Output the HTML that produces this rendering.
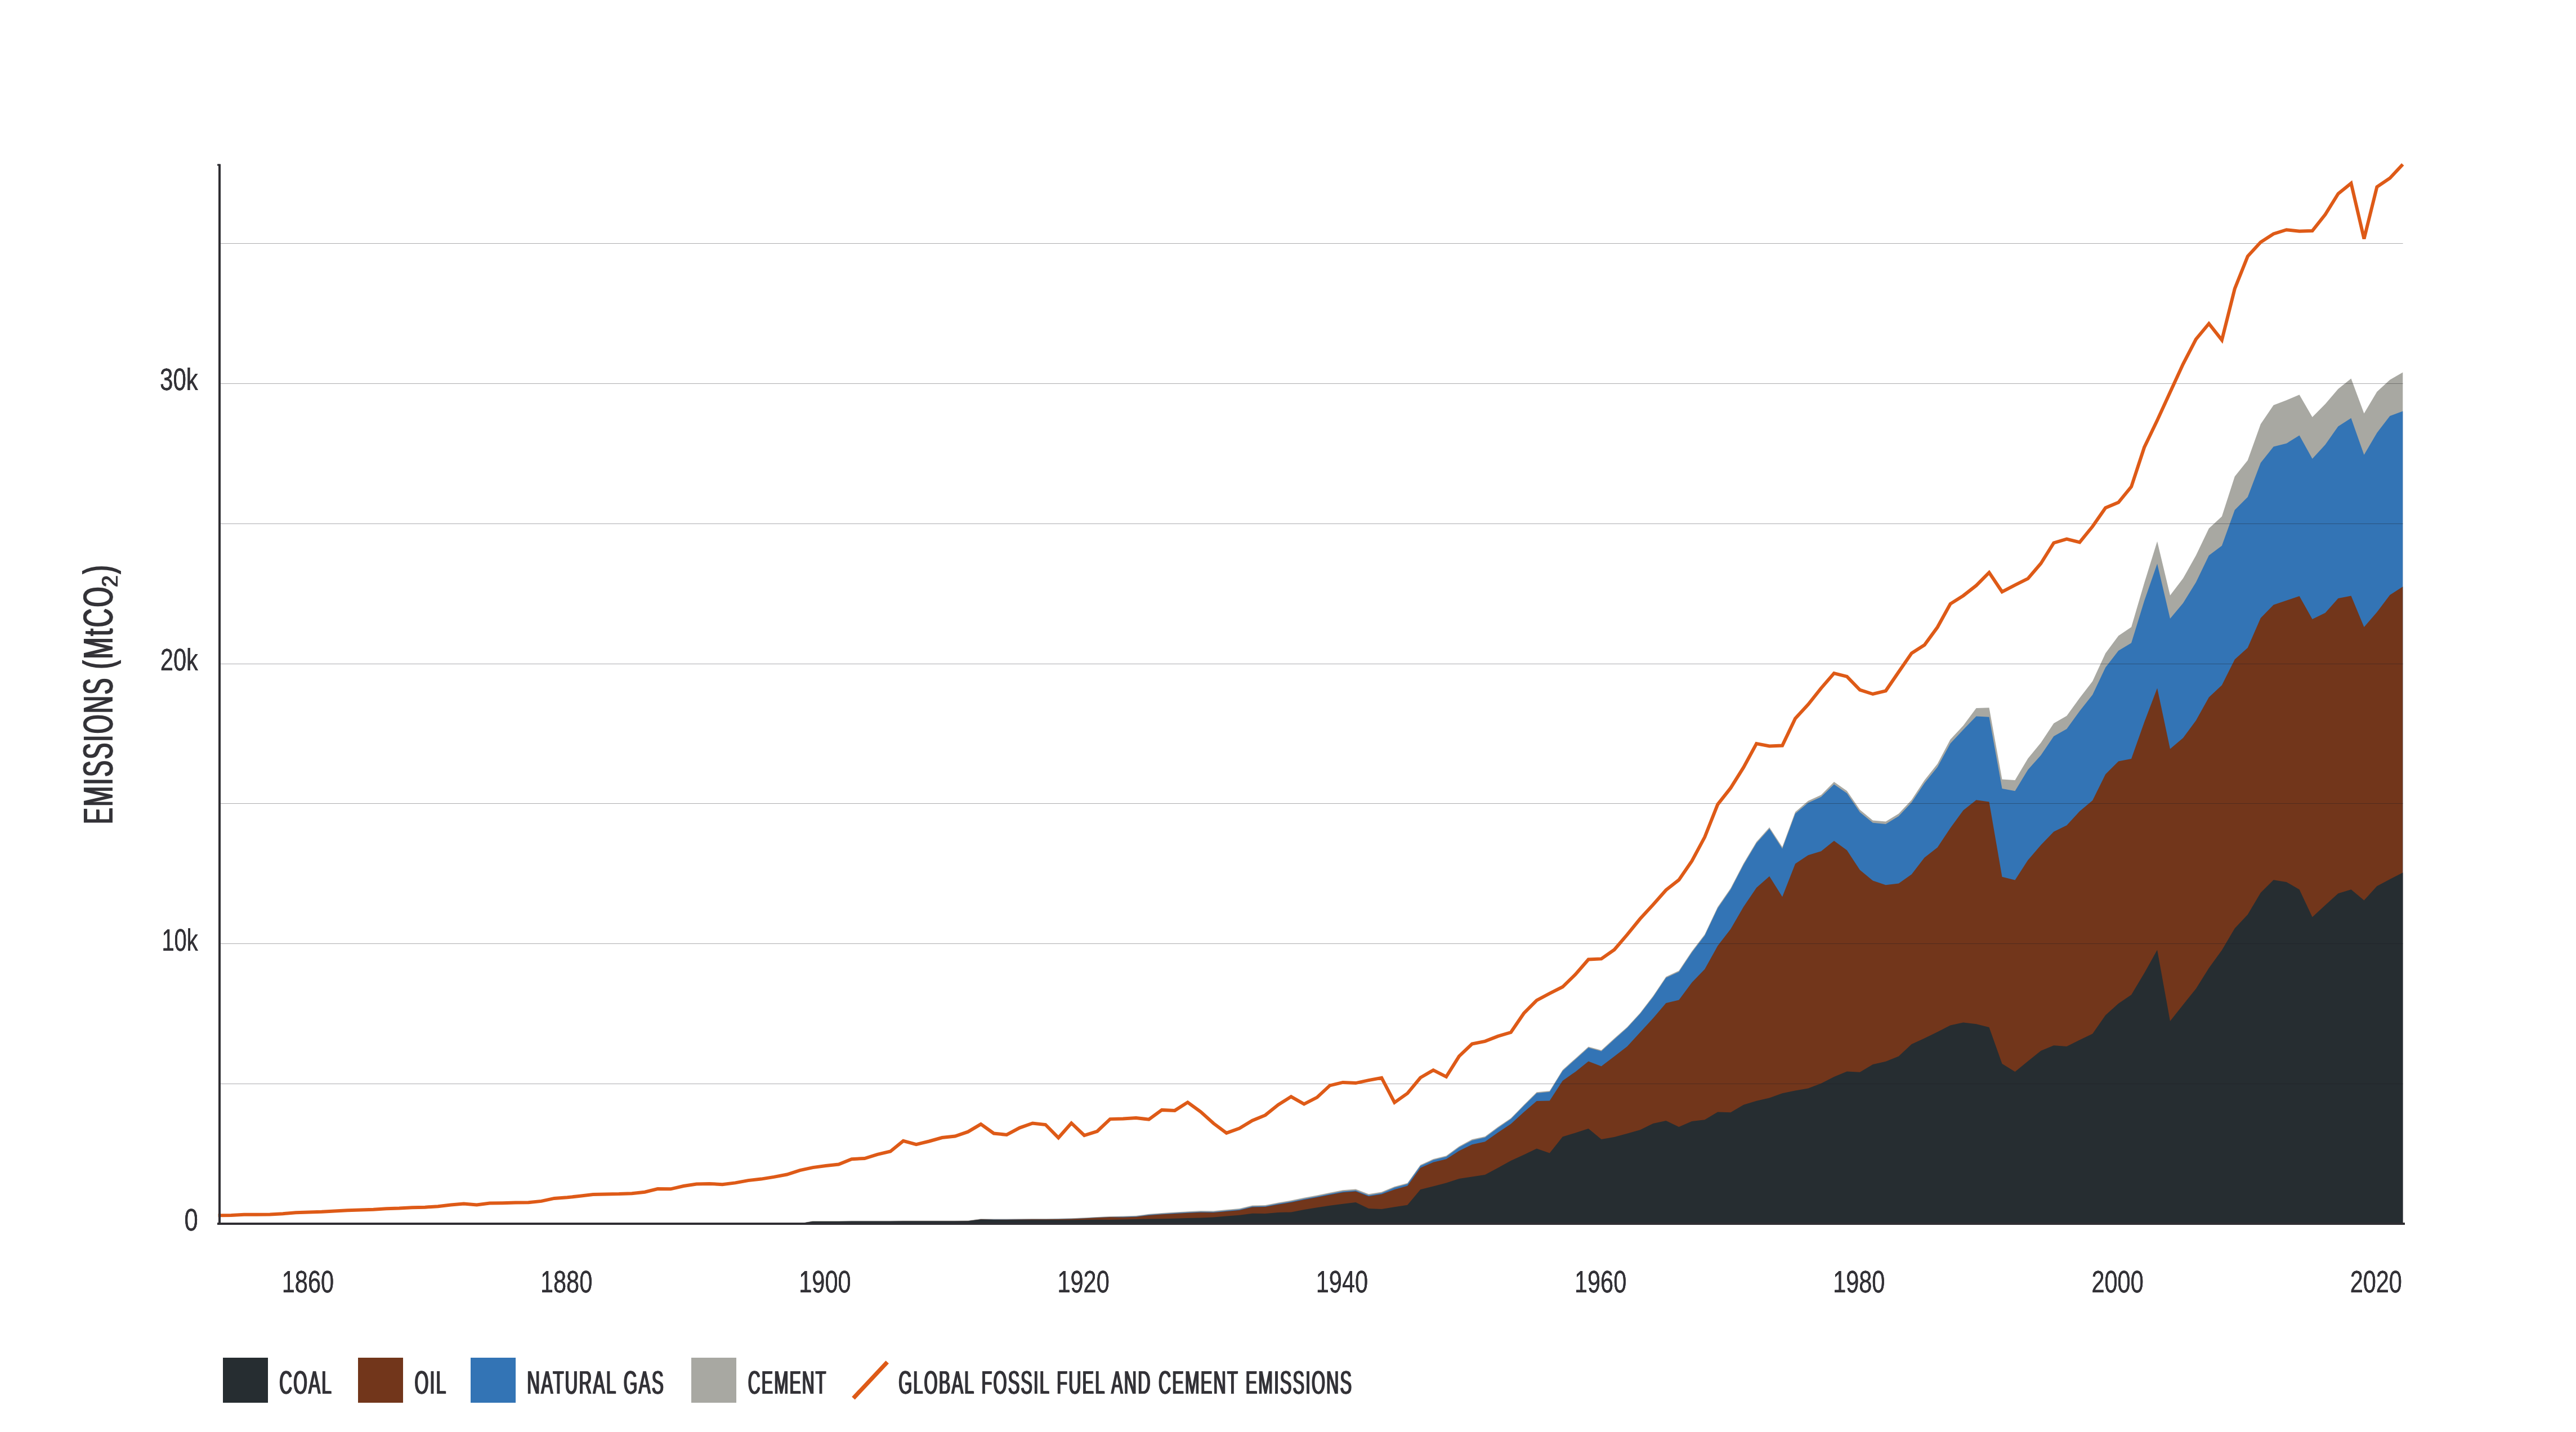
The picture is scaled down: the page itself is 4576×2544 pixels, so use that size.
<!DOCTYPE html>
<html lang="en"><head><meta charset="utf-8"><title>Global fossil fuel and cement emissions</title>
<style>html,body{margin:0;padding:0;background:#fff}body{width:4576px;height:2544px}svg{display:block}text{font-family:"Liberation Sans",sans-serif;fill:#333237}</style></head><body>
<svg width="4576" height="2544" viewBox="0 0 4576 2544">
<rect width="4576" height="2544" fill="#fff"/>
<defs><filter id="b" x="-5%" y="-20%" width="110%" height="140%" color-interpolation-filters="sRGB"><feOffset in="SourceGraphic" dx="0.9" dy="0" result="o1"/><feOffset in="SourceGraphic" dx="-0.9" dy="0" result="o2"/><feMerge><feMergeNode in="o1"/><feMergeNode in="o2"/><feMergeNode in="SourceGraphic"/></feMerge></filter><filter id="c" x="-5%" y="-20%" width="110%" height="140%" color-interpolation-filters="sRGB"><feOffset in="SourceGraphic" dx="0.3" dy="0" result="o1"/><feOffset in="SourceGraphic" dx="-0.3" dy="0" result="o2"/><feMerge><feMergeNode in="o1"/><feMergeNode in="o2"/><feMergeNode in="SourceGraphic"/></feMerge></filter></defs>
<path d="M1398,2174L1398,2174L1420.9,2173.5L1443.9,2169.1L1466.9,2169L1489.8,2168.9L1512.8,2168.8L1535.8,2168.8L1558.7,2168.7L1581.7,2168.7L1604.6,2168.6L1627.6,2168.6L1650.6,2168.5L1673.5,2168.5L1696.5,2168.4L1719.5,2168.3L1742.4,2165.3L1765.4,2165.4L1788.3,2165.4L1811.3,2165.2L1834.3,2165L1857.2,2164.9L1880.2,2164.7L1903.2,2164.2L1926.1,2163.2L1949.1,2162L1972,2161L1995,2160.4L2018,2159.8L2040.9,2156.7L2063.9,2155L2086.9,2153.5L2109.8,2152.2L2132.8,2151.1L2155.8,2151.3L2178.7,2149.1L2201.7,2147L2224.6,2141.5L2247.6,2140.9L2270.6,2136.5L2293.5,2132.6L2316.5,2127.8L2339.5,2123.5L2362.4,2118.7L2385.4,2114.3L2408.3,2112.6L2431.3,2121.3L2454.3,2117.4L2477.2,2108L2500.2,2101.7L2523.2,2069.5L2546.1,2059.1L2569.1,2053.2L2592,2036.5L2615,2024.1L2638,2019L2660.9,2002L2683.9,1986.4L2706.9,1962.9L2729.8,1940.3L2752.8,1937.9L2775.8,1900.7L2798.7,1880.2L2821.7,1859.4L2844.6,1865.7L2867.6,1844.8L2890.6,1824.4L2913.5,1799.4L2936.5,1769.5L2959.5,1735.3L2982.4,1724.5L3005.4,1689.9L3028.3,1660L3051.3,1611.2L3074.3,1578L3097.2,1533.9L3120.2,1495.5L3143.2,1469.8L3166.1,1504.8L3189.1,1442.6L3212,1422.8L3235,1412.3L3258,1389L3280.9,1405.1L3303.9,1438.4L3326.9,1457.5L3349.8,1459.4L3372.8,1445.4L3395.8,1420.9L3418.7,1386L3441.7,1356.9L3464.6,1313.8L3487.6,1288.9L3510.6,1258L3533.5,1257.2L3556.5,1384.4L3579.5,1386L3602.4,1347.6L3625.4,1319.6L3648.3,1285.1L3671.3,1271.8L3694.3,1240L3717.2,1210.3L3740.2,1160.6L3763.2,1129.4L3786.1,1114.1L3809.1,1035.8L3832.1,961.8L3855,1057.8L3878,1027.6L3900.9,986.8L3923.9,938.7L3946.9,917.6L3969.8,846.5L3992.8,817.7L4015.8,753.6L4038.7,719.8L4061.7,710.9L4084.6,701.3L4107.6,740.9L4130.6,717.8L4153.5,691L4176.5,672.5L4199.5,734.4L4222.4,696L4245.4,674.8L4268.3,661.4L4268.3,2174Z" fill="#a8a8a2"/>
<path d="M1398,2174L1398,2174L1420.9,2173.5L1443.9,2170.1L1466.9,2170L1489.8,2169.9L1512.8,2169.8L1535.8,2169.8L1558.7,2169.7L1581.7,2169.7L1604.6,2169.6L1627.6,2169.6L1650.6,2169.5L1673.5,2169.5L1696.5,2169.4L1719.5,2169.3L1742.4,2166.3L1765.4,2166.4L1788.3,2166.4L1811.3,2166.2L1834.3,2166L1857.2,2165.9L1880.2,2165.7L1903.2,2165.2L1926.1,2164.2L1949.1,2163L1972,2162L1995,2161.7L2018,2161.1L2040.9,2158.1L2063.9,2156.4L2086.9,2155L2109.8,2153.7L2132.8,2152.7L2155.8,2152.9L2178.7,2150.8L2201.7,2148.7L2224.6,2143.3L2247.6,2142.7L2270.6,2138.3L2293.5,2134.5L2316.5,2129.7L2339.5,2125.4L2362.4,2120.7L2385.4,2116.4L2408.3,2114.7L2431.3,2123.4L2454.3,2119.6L2477.2,2109.7L2500.2,2103.4L2523.2,2071.3L2546.1,2060.8L2569.1,2055L2592,2038.2L2615,2025.9L2638,2020.7L2660.9,2003.7L2683.9,1988.1L2706.9,1964.6L2729.8,1942L2752.8,1939.7L2775.8,1902.4L2798.7,1881.9L2821.7,1861.2L2844.6,1867.5L2867.6,1846.5L2890.6,1825.9L2913.5,1801L2936.5,1771.3L2959.5,1737.1L2982.4,1726.4L3005.4,1691.9L3028.3,1662.1L3051.3,1613.4L3074.3,1580.2L3097.2,1536.2L3120.2,1497.8L3143.2,1472.2L3166.1,1507.8L3189.1,1445.4L3212,1426.3L3235,1415.8L3258,1393.4L3280.9,1409.3L3303.9,1443.1L3326.9,1461.7L3349.8,1464L3372.8,1450L3395.8,1425.6L3418.7,1391.3L3441.7,1362.7L3464.6,1320.8L3487.6,1296.3L3510.6,1272.6L3533.5,1273.7L3556.5,1401.1L3579.5,1405.3L3602.4,1367.4L3625.4,1341.7L3648.3,1308L3671.3,1295.1L3694.3,1263.2L3717.2,1234.3L3740.2,1185.7L3763.2,1156L3786.1,1142.3L3809.1,1067.5L3832.1,1001.4L3855,1099.1L3878,1071.5L3900.9,1034.5L3923.9,986.8L3946.9,969.5L3969.8,906.1L3992.8,883L4015.8,822.3L4038.7,793.5L4061.7,787.8L4084.6,773.6L4107.6,815L4130.6,790.1L4153.5,757.4L4176.5,742.8L4199.5,808.1L4222.4,768.9L4245.4,739L4268.3,730.5L4268.3,2174Z" fill="#3374b5"/>
<path d="M1398,2174L1398,2174L1420.9,2173.5L1443.9,2170.1L1466.9,2170L1489.8,2169.9L1512.8,2169.8L1535.8,2169.8L1558.7,2169.7L1581.7,2169.7L1604.6,2169.6L1627.6,2169.6L1650.6,2169.5L1673.5,2169.5L1696.5,2169.4L1719.5,2169.3L1742.4,2166.3L1765.4,2166.7L1788.3,2166.7L1811.3,2166.5L1834.3,2166.3L1857.2,2166.2L1880.2,2166L1903.2,2165.5L1926.1,2164.5L1949.1,2163.3L1972,2162.3L1995,2162.4L2018,2161.8L2040.9,2158.9L2063.9,2157.3L2086.9,2155.9L2109.8,2154.7L2132.8,2153.7L2155.8,2154L2178.7,2152L2201.7,2149.9L2224.6,2144.6L2247.6,2144L2270.6,2139.8L2293.5,2136L2316.5,2131.3L2339.5,2127.1L2362.4,2122.4L2385.4,2118.2L2408.3,2116.5L2431.3,2125.3L2454.3,2121.5L2477.2,2113.2L2500.2,2106.7L2523.2,2074.8L2546.1,2064.8L2569.1,2059.2L2592,2044.5L2615,2033.3L2638,2028.2L2660.9,2011.9L2683.9,1996.8L2706.9,1975.8L2729.8,1956L2752.8,1955.5L2775.8,1919.9L2798.7,1904L2821.7,1885.4L2844.6,1894.3L2867.6,1876.8L2890.6,1858.9L2913.5,1834L2936.5,1809L2959.5,1782.1L2982.4,1776.4L3005.4,1745.6L3028.3,1721.8L3051.3,1680.3L3074.3,1650.4L3097.2,1611L3120.2,1577L3143.2,1556.7L3166.1,1593.3L3189.1,1534.6L3212,1519.2L3235,1512.2L3258,1493.8L3280.9,1510.6L3303.9,1545.5L3326.9,1564.6L3349.8,1572.3L3372.8,1569.5L3395.8,1553.2L3418.7,1523.4L3441.7,1505.5L3464.6,1471L3487.6,1439.6L3510.6,1421.2L3533.5,1424.4L3556.5,1557.7L3579.5,1563.5L3602.4,1528.1L3625.4,1501.3L3648.3,1477.5L3671.3,1466.3L3694.3,1441.2L3717.2,1422L3740.2,1375.6L3763.2,1352.4L3786.1,1348L3809.1,1283L3832.1,1222.4L3855,1330.4L3878,1311L3900.9,1280L3923.9,1238.7L3946.9,1217.2L3969.8,1171.5L3992.8,1150.8L4015.8,1097.9L4038.7,1074.6L4061.7,1066.8L4084.6,1059.1L4107.6,1099.9L4130.6,1088.8L4153.5,1063L4176.5,1058.6L4199.5,1114.1L4222.4,1087.5L4245.4,1057L4268.3,1042.3L4268.3,2174Z" fill="#72361b"/>
<path d="M1398,2174L1398,2174L1420.9,2173.5L1443.9,2170.1L1466.9,2170L1489.8,2169.9L1512.8,2169.8L1535.8,2169.8L1558.7,2169.7L1581.7,2169.7L1604.6,2169.6L1627.6,2169.6L1650.6,2169.5L1673.5,2169.5L1696.5,2169.4L1719.5,2169.3L1742.4,2166.6L1765.4,2167.1L1788.3,2167.2L1811.3,2167.2L1834.3,2167.2L1857.2,2167.3L1880.2,2167.3L1903.2,2167.2L1926.1,2167L1949.1,2166.8L1972,2167.1L1995,2166.5L2018,2166.1L2040.9,2165.4L2063.9,2165.2L2086.9,2164.8L2109.8,2164.1L2132.8,2163.5L2155.8,2162.4L2178.7,2160.4L2201.7,2158.7L2224.6,2155.7L2247.6,2156.1L2270.6,2153.9L2293.5,2153.5L2316.5,2149.1L2339.5,2145.2L2362.4,2141.7L2385.4,2138.7L2408.3,2135.9L2431.3,2147L2454.3,2148L2477.2,2144.2L2500.2,2140.7L2523.2,2113.2L2546.1,2107.4L2569.1,2101.6L2592,2094.1L2615,2090.6L2638,2087.1L2660.9,2074.8L2683.9,2062L2706.9,2051.5L2729.8,2040.5L2752.8,2048.5L2775.8,2019.6L2798.7,2012.4L2821.7,2004.9L2844.6,2024L2867.6,2020L2890.6,2013.8L2913.5,2007.2L2936.5,1996.1L2959.5,1990.9L2982.4,2002.1L3005.4,1992.1L3028.3,1989.3L3051.3,1975.6L3074.3,1976.3L3097.2,1962.8L3120.2,1955.8L3143.2,1950.4L3166.1,1942.3L3189.1,1937.6L3212,1933.4L3235,1924.8L3258,1913.1L3280.9,1903.4L3303.9,1904.8L3326.9,1891L3349.8,1885.7L3372.8,1876.6L3395.8,1854.9L3418.7,1844.4L3441.7,1833.2L3464.6,1821.6L3487.6,1816.5L3510.6,1819.3L3533.5,1824.9L3556.5,1889.8L3579.5,1904.1L3602.4,1885.2L3625.4,1866.8L3648.3,1857.2L3671.3,1859L3694.3,1847.6L3717.2,1836.5L3740.2,1803.5L3763.2,1782.8L3786.1,1767.3L3809.1,1728.8L3832.1,1687.4L3855,1814.1L3878,1784.9L3900.9,1756.4L3923.9,1719.7L3946.9,1688L3969.8,1649.2L3992.8,1624.7L4015.8,1585.9L4038.7,1563.2L4061.7,1567L4084.6,1580.2L4107.6,1629.3L4130.6,1607.9L4153.5,1587.2L4176.5,1580.2L4199.5,1599.6L4222.4,1574.3L4245.4,1562.1L4268.3,1550.2L4268.3,2174Z" fill="#262d31"/>
<rect x="392" y="432" width="3876.6" height="1" fill="#1a1a22" fill-opacity="0.36"/>
<rect x="392" y="681" width="3876.6" height="1" fill="#1a1a22" fill-opacity="0.36"/>
<rect x="392" y="930" width="3876.6" height="1" fill="#1a1a22" fill-opacity="0.36"/>
<rect x="392" y="1179" width="3876.6" height="1" fill="#1a1a22" fill-opacity="0.36"/>
<rect x="392" y="1427" width="3876.6" height="1" fill="#1a1a22" fill-opacity="0.36"/>
<rect x="392" y="1676" width="3876.6" height="1" fill="#1a1a22" fill-opacity="0.36"/>
<rect x="392" y="1925" width="3876.6" height="1" fill="#1a1a22" fill-opacity="0.36"/>
<path d="M387.6,2159.3L410.6,2159L433.5,2157.8L456.5,2157.8L479.5,2157.5L502.4,2156.2L525.4,2154.3L548.3,2153.4L571.3,2152.8L594.3,2151.6L617.2,2150.3L640.2,2149.4L663.2,2148.8L686.1,2147.2L709.1,2146.6L732,2145.3L755,2144.7L778,2143.2L800.9,2140.4L823.9,2138.5L846.9,2140.4L869.8,2137.6L892.8,2137.3L915.7,2136.6L938.7,2136.3L961.7,2133.9L984.6,2128.9L1007.6,2127.3L1030.6,2124.8L1053.5,2122L1076.5,2121.4L1099.5,2121.1L1122.4,2120.2L1145.4,2117.7L1168.3,2112L1191.3,2112.3L1214.3,2107L1237.2,2103.6L1260.2,2103L1283.2,2104.2L1306.1,2101.4L1329.1,2097.1L1352,2094.6L1375,2090.9L1398,2086.5L1420.9,2079.1L1443.9,2074.1L1466.9,2071L1489.8,2068.5L1512.8,2059.2L1535.8,2058L1558.7,2050.8L1581.7,2045.5L1604.6,2026.9L1627.6,2033.1L1650.6,2027.5L1673.5,2021L1696.5,2018.5L1719.5,2010.7L1742.4,1997.1L1765.4,2013.5L1788.3,2016L1811.3,2003.6L1834.3,1995.5L1857.2,1998L1880.2,2021.3L1903.2,1995.2L1926.1,2017L1949.1,2009.8L1972,1988.1L1995,1987.5L2018,1985.9L2040.9,1988.7L2063.9,1971.9L2086.9,1972.9L2109.8,1958.3L2132.8,1975L2155.8,1995.8L2178.7,2012.9L2201.7,2004.5L2224.6,1990.6L2247.6,1981.2L2270.6,1962.6L2293.5,1948.3L2316.5,1961.4L2339.5,1949.6L2362.4,1928.4L2385.4,1922.9L2408.3,1924.1L2431.3,1919.1L2454.3,1914.8L2477.2,1958.6L2500.2,1942.4L2523.2,1914.5L2546.1,1901.1L2569.1,1912.9L2592,1876.3L2615,1854.5L2638,1849.9L2660.9,1840.9L2683.9,1834L2706.9,1800.2L2729.8,1777.1L2752.8,1764.8L2775.8,1753.3L2798.7,1731L2821.7,1704.5L2844.6,1703.4L2867.6,1687.2L2890.6,1660.4L2913.5,1632.3L2936.5,1607.3L2959.5,1581.2L2982.4,1563.2L3005.4,1529.7L3028.3,1487.1L3051.3,1429.1L3074.3,1399.9L3097.2,1363.4L3120.2,1321.1L3143.2,1325.4L3166.1,1324.5L3189.1,1276.4L3212,1251.5L3235,1222.6L3258,1196.1L3280.9,1201.9L3303.9,1225.7L3326.9,1233L3349.8,1227.3L3372.8,1193.8L3395.8,1160.4L3418.7,1145.8L3441.7,1114.3L3464.6,1072.8L3487.6,1058.2L3510.6,1040.2L3533.5,1017.1L3556.5,1051.3L3579.5,1039.4L3602.4,1027.9L3625.4,1001L3648.3,964.5L3671.3,957.6L3694.3,963.3L3717.2,935.3L3740.2,902.3L3763.2,892.6L3786.1,864.6L3809.1,794.7L3832.1,746.7L3855,696.7L3878,646.8L3900.9,602.6L3923.9,574.9L3946.9,604.1L3969.8,512.9L3992.8,455.3L4015.8,430.2L4038.7,415.5L4061.7,408.2L4084.6,410.8L4107.6,410.1L4130.6,381.1L4153.5,344.2L4176.5,325.6L4199.5,424.3L4222.4,332L4245.4,316.5L4268.3,292" fill="none" stroke="#de5a17" stroke-width="6" stroke-linejoin="miter" stroke-linecap="butt"/>
<rect x="388" y="291.5" width="4" height="1884.5" fill="#2f2e33"/>
<rect x="386" y="291.5" width="4" height="3" fill="#2f2e33"/>
<rect x="386" y="2172" width="3886" height="4" fill="#2f2e33"/>
<text x="284.1" y="693.4" font-size="55" textLength="67.7" lengthAdjust="spacingAndGlyphs" filter="url(#c)">30k</text>
<text x="284.8" y="1191.2" font-size="55" textLength="67" lengthAdjust="spacingAndGlyphs" filter="url(#c)">20k</text>
<text x="287.4" y="1689" font-size="55" textLength="64.4" lengthAdjust="spacingAndGlyphs" filter="url(#c)">10k</text>
<text x="327.5" y="2186" font-size="55" textLength="24.3" lengthAdjust="spacingAndGlyphs" filter="url(#c)">0</text>
<text x="500.8" y="2296.4" font-size="55" textLength="92.2" lengthAdjust="spacingAndGlyphs" filter="url(#c)">1860</text>
<text x="960" y="2296.4" font-size="55" textLength="92.2" lengthAdjust="spacingAndGlyphs" filter="url(#c)">1880</text>
<text x="1419.3" y="2296.4" font-size="55" textLength="92.2" lengthAdjust="spacingAndGlyphs" filter="url(#c)">1900</text>
<text x="1878.5" y="2296.4" font-size="55" textLength="92.2" lengthAdjust="spacingAndGlyphs" filter="url(#c)">1920</text>
<text x="2337.8" y="2296.4" font-size="55" textLength="92.2" lengthAdjust="spacingAndGlyphs" filter="url(#c)">1940</text>
<text x="2797" y="2296.4" font-size="55" textLength="92.2" lengthAdjust="spacingAndGlyphs" filter="url(#c)">1960</text>
<text x="3256.2" y="2296.4" font-size="55" textLength="92.2" lengthAdjust="spacingAndGlyphs" filter="url(#c)">1980</text>
<text x="3715.5" y="2296.4" font-size="55" textLength="92.2" lengthAdjust="spacingAndGlyphs" filter="url(#c)">2000</text>
<text x="4174.7" y="2296.4" font-size="55" textLength="92.2" lengthAdjust="spacingAndGlyphs" filter="url(#c)">2020</text>
<rect x="396" y="2412" width="80" height="80" fill="#262d31"/>
<rect x="636" y="2412" width="80" height="80" fill="#72361b"/>
<rect x="836" y="2412" width="80" height="80" fill="#3374b5"/>
<rect x="1228" y="2412" width="80" height="80" fill="#a8a8a2"/>
<line x1="1515.9" y1="2484" x2="1576.2" y2="2419.8" stroke="#de5a17" stroke-width="7.5"/>
<text x="496.2" y="2475.8" font-size="57.3" textLength="94.8" lengthAdjust="spacingAndGlyphs" filter="url(#b)" word-spacing="3" letter-spacing="4">COAL</text>
<text x="736.4" y="2475.8" font-size="57.3" textLength="58.2" lengthAdjust="spacingAndGlyphs" filter="url(#b)" word-spacing="3" letter-spacing="4">OIL</text>
<text x="936.3" y="2475.8" font-size="57.3" textLength="244.7" lengthAdjust="spacingAndGlyphs" filter="url(#b)" word-spacing="3" letter-spacing="4">NATURAL GAS</text>
<text x="1328.8" y="2475.8" font-size="57.3" textLength="140.7" lengthAdjust="spacingAndGlyphs" filter="url(#b)" word-spacing="3" letter-spacing="4">CEMENT</text>
<text x="1596.2" y="2475.8" font-size="57.3" textLength="807" lengthAdjust="spacingAndGlyphs" filter="url(#b)" word-spacing="3" letter-spacing="4">GLOBAL FOSSIL FUEL AND CEMENT EMISSIONS</text>
<g transform="translate(199.9,1461) rotate(-90)">
<text y="0" font-size="75" letter-spacing="4" filter="url(#b)"><tspan x="-3" textLength="261.5" lengthAdjust="spacingAndGlyphs">EMISSIONS</tspan> <tspan x="272.5" textLength="148.5" lengthAdjust="spacingAndGlyphs">(MtCO</tspan><tspan x="418.3" font-size="40" dy="8.5" textLength="24" lengthAdjust="spacingAndGlyphs">2</tspan><tspan x="441.2" dy="-8.5" textLength="18" lengthAdjust="spacingAndGlyphs">)</tspan></text>
</g>
</svg></body></html>
